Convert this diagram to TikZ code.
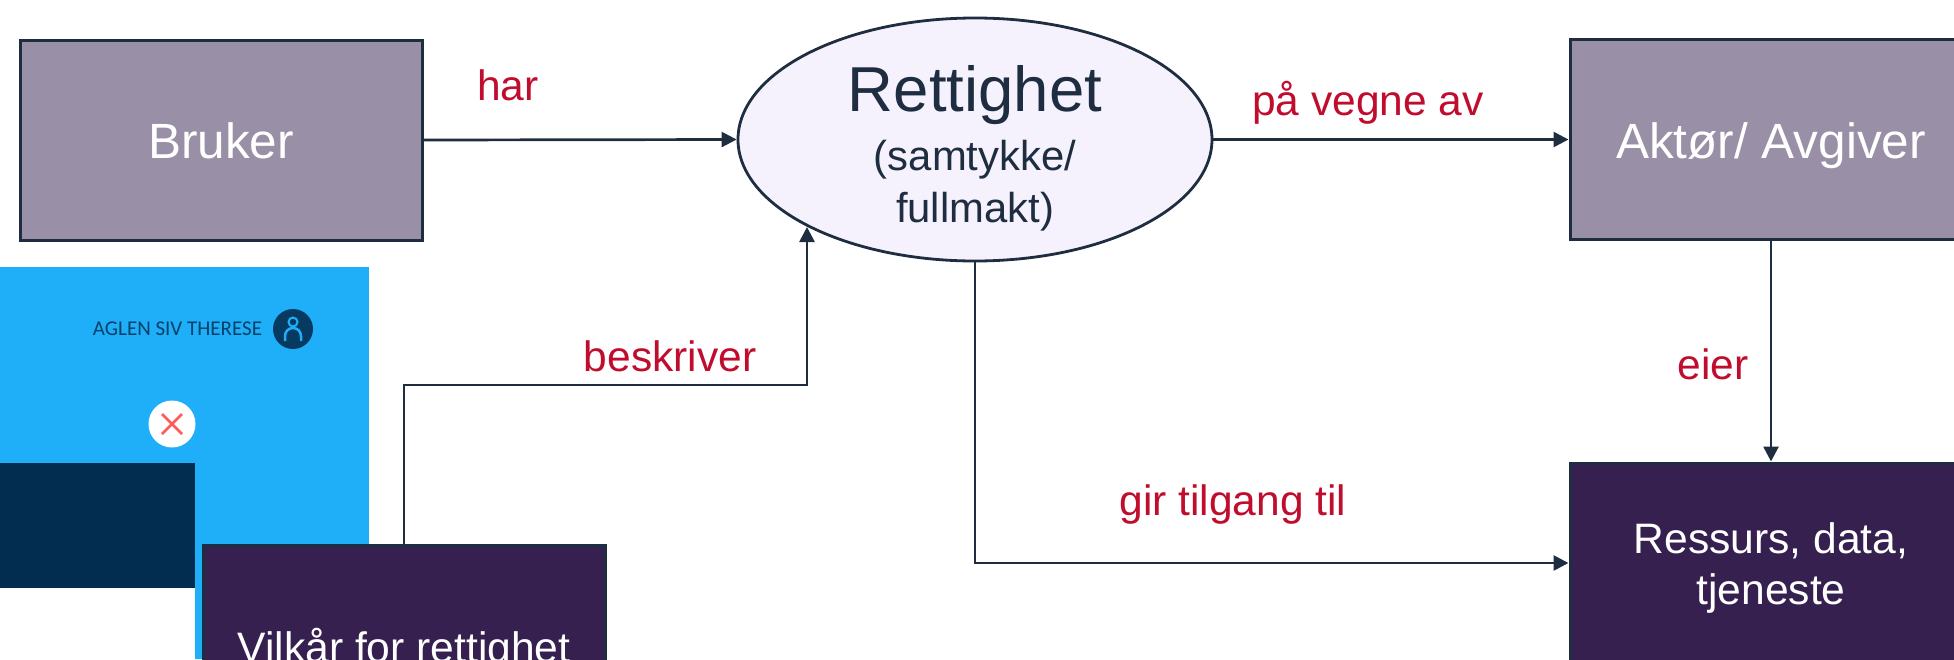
\documentclass[tikz,border=0pt]{standalone}
\usepackage{fontspec}
\setmainfont{Liberation Sans}
\newfontfamily\namefont{Carlito}
\usetikzlibrary{positioning, arrows.meta, shapes.geometric}
\definecolor{linedark}{HTML}{1E2D40}
\definecolor{greybox}{HTML}{998FA6}
\definecolor{purplebox}{HTML}{352050}
\definecolor{ovalfill}{HTML}{F5F2FD}
\definecolor{labelred}{HTML}{C00D2D}
\definecolor{skyblue}{HTML}{1FAEF8}
\definecolor{navyblue}{HTML}{032D50}
\tikzset{
  lightbox/.style={
    rectangle, draw=linedark, fill=greybox,
    line width=3pt, text=white, text centered,
    minimum width=402pt, minimum height=200pt,
    text height=37pt, text depth=0pt,
    font=\fontsize{49.5}{58}\selectfont
  },
  darkbox/.style={
    rectangle, draw=linedark, fill=purplebox,
    line width=3pt, text=white, align=center,
    minimum width=402pt, minimum height=200pt,
    font=\fontsize{42.6}{51}\selectfont
  },
  oval/.style={
    ellipse, draw=linedark, fill=ovalfill,
    line width=2.8pt, text=linedark, align=center,
    minimum width=474pt, minimum height=243pt,
    inner sep=-10pt,
    font=\fontsize{41.8}{51.5}\selectfont
  },
  linklabel/.style={
    text=labelred, inner sep=0pt,
    font=\fontsize{42.5}{50}\selectfont
  },
  arrow/.style={
    draw=linedark, line width=2.7pt,
    -{Triangle[length=15pt, width=15pt]}
  }
}

\begin{document}
\begin{tikzpicture}[x=1pt, y=-1pt]
\useasboundingbox (0,0) rectangle (1954,659);
\clip (0,0) rectangle (1954,659);

% ==============================================================================
% Screenshot behind the terms box
% ==============================================================================
\node[rectangle, fill=skyblue, inner sep=0pt, minimum width=369pt, minimum height=392pt, anchor=north west] (panel) at (0,267) {};
\node[rectangle, fill=navyblue, inner sep=0pt, minimum width=195pt, minimum height=125pt, anchor=north west] (banner) at (0,463) {};
\node[rectangle, fill=white, inner sep=0pt, minimum width=195pt, minimum height=71pt, anchor=north west] (sheet) at (0,588) {};
\node[text=navyblue!85!skyblue, inner sep=0pt, font=\namefont\fontsize{21}{24}\selectfont] (username) at (177.5,329) {AGLEN SIV THERESE};
\node[circle, fill=navyblue!90!skyblue, inner sep=0pt, minimum size=40pt] (avatar) at (293,329) {};
\node[circle, draw=skyblue, line width=2pt, inner sep=0pt, minimum size=9pt] (avatarhead) at (293,322) {};
\draw[skyblue, line width=2.5pt] (285,341) -- (285,336) arc[start angle=180, end angle=0, radius=8pt] -- (301,341);
\node[circle, fill=white, inner sep=0pt, minimum size=47pt] (closebtn) at (172,424) {};
\draw[red!65!white, line width=2.6pt] (closebtn.center) ++(-10,-10) -- ++(20,20);
\draw[red!65!white, line width=2.6pt] (closebtn.center) ++(-10,10) -- ++(20,-20);

% ==============================================================================
% Boxes
% ==============================================================================
\node[lightbox] (bruker) at (221,140) {Bruker};
\node[lightbox] (aktor) at (1771,139.5) {Aktør/ Avgiver};
\node[darkbox] (ressurs) at (1771,563) {\rule{0pt}{40pt}Ressurs, data,\\tjeneste};
\node[darkbox] (vilkar) at (404,645) {\raisebox{-17.5pt}[0pt][0pt]{Vilkår for rettighet}};

\node[oval] (rettighet) at (975,139.5) {
  \rule{0pt}{63pt}{\fontsize{63.5}{64}\selectfont Rettighet}\\[8pt]
  (samtykke/\\
  fullmakt)
};

% ==============================================================================
% Arrows
% ==============================================================================
\coordinate (elbow) at (807,385);
\coordinate (entry) at (807,227);

\draw[arrow] (bruker.east) -- (rettighet.west);
\draw[arrow] (rettighet.east) -- (aktor.west);
\draw[arrow] (aktor.south) -- (ressurs.north);
\draw[arrow] (rettighet.south) |- (ressurs.west);
\draw[arrow] (vilkar.north) |- (elbow) -- (entry);

% ==============================================================================
% Labels
% ==============================================================================
\node[linklabel] (har) at (508,85) {har};
\node[linklabel] (vegne) at (1368,103) {på vegne av};
\node[linklabel] (beskriver) at (670,356) {beskriver};
\node[linklabel] (eier) at (1713,364) {eier};
\node[linklabel] (tilgang) at (1233,505) {gir tilgang til};

\end{tikzpicture}
\end{document}
